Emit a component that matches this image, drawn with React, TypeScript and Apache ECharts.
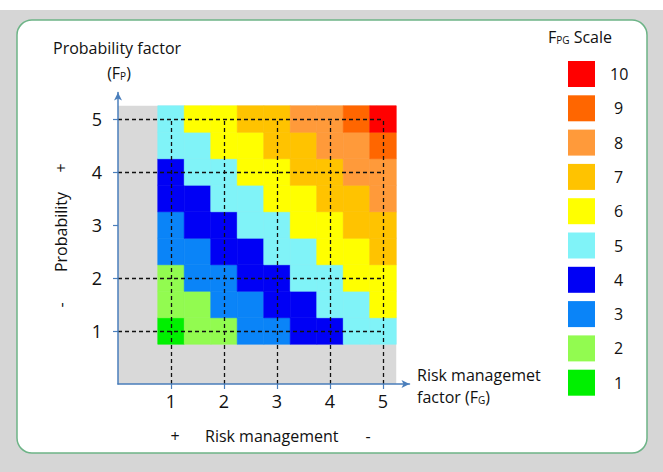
import React, { useEffect, useRef } from "react";
import * as echarts from "echarts";

// ---- data ----
const cellCentres = [1, 1.5, 2, 2.5, 3, 3.5, 4, 4.5, 5];
// F_PG values, rows from bottom (F_P = 1) to top (F_P = 5), columns F_G = 1 .. 5
const fpgRow1 = [1, 2, 2, 3, 3, 4, 4, 5, 5];
const fpgRow15 = [2, 2, 3, 3, 4, 4, 5, 5, 6];
const fpgRow2 = [2, 3, 3, 4, 4, 5, 5, 6, 6];
const fpgRow25 = [3, 3, 4, 4, 5, 5, 6, 6, 7];
const fpgRow3 = [3, 4, 4, 5, 5, 6, 6, 7, 7];
const fpgRow35 = [4, 4, 5, 5, 6, 6, 7, 7, 8];
const fpgRow4 = [4, 5, 5, 6, 6, 7, 7, 8, 8];
const fpgRow45 = [5, 5, 6, 6, 7, 7, 8, 8, 9];
const fpgRow5 = [5, 6, 6, 7, 7, 8, 8, 9, 10];
const fpgRows = [fpgRow1, fpgRow15, fpgRow2, fpgRow25, fpgRow3, fpgRow35, fpgRow4, fpgRow45, fpgRow5];

const scaleValues = [1, 2, 3, 4, 5, 6, 7, 8, 9, 10];
const scaleColors = ["#00f000", "#92fb50", "#0a84f8", "#0000f5", "#80f3f8", "#ffff00", "#ffc300", "#ff9a3a", "#ff6600", "#ff0000"];

const axisTickValues = [1, 2, 3, 4, 5];
const dashedRowsY = [1, 2, 4, 5];
const dashedColsX = [1, 2, 3, 4, 5];
const plotExtent = 5.25;
const axisMax = 5.5;

const FONT = "'Open Sans', 'Noto Sans', sans-serif";

export default function App() {
  const ref = useRef<HTMLDivElement>(null);
  useEffect(() => {
    if (!ref.current) return;
    const chart = echarts.init(ref.current, undefined, { renderer: "svg" });
    const cellData: number[][] = [];
    fpgRows.forEach((row, ri) => {
      row.forEach((v, ci) => cellData.push([cellCentres[ci], cellCentres[ri], v]));
    });
    const half = (cellCentres[1] - cellCentres[0]) / 2;
    const dashLines = [
      ...dashedRowsY.map((y) => ({ coords: [[0, y], [dashedColsX[dashedColsX.length - 1], y]] })),
      ...dashedColsX.map((x) => ({ coords: [[x, 0], [x, dashedRowsY[dashedRowsY.length - 1]]] })),
    ];
    const axisColor = "#4a7ebb";
    const axisCommon = {
      type: "value" as const,
      min: 0,
      max: axisMax,
      z: 10,
      splitLine: { show: false },
      axisLine: {
        show: true,
        onZero: false,
        symbol: ["none", "arrow"],
        symbolSize: [6, 8],
        lineStyle: { color: axisColor, width: 1.5 },
      },
      axisTick: { show: true, customValues: axisTickValues, length: 5, lineStyle: { color: axisColor, width: 1.2 } },
    };
    chart.setOption({
      animation: false,
      backgroundColor: "#d6d6d6",
      graphic: [
        { type: "rect", z: -100, shape: { x: 0, y: 0, width: 663, height: 10 }, style: { fill: "#ffffff" } },
        {
          type: "rect",
          z: -99,
          shape: { x: 17, y: 20, width: 630, height: 433, r: 15 },
          style: { fill: "#ffffff", stroke: "#6db487", lineWidth: 1.5 },
        },
        {
          type: "text",
          x: 53,
          y: 48,
          style: { text: "Probability factor", font: `16px ${FONT}`, fill: "#111", verticalAlign: "middle" },
        },
        {
          type: "text",
          x: 119,
          y: 73,
          style: {
            text: "{a|(F}{s|P}{a|)}",
            align: "center",
            verticalAlign: "middle",
            rich: {
              a: { fontSize: 16, fontFamily: FONT, fill: "#111" },
              s: { fontSize: 10, fontFamily: FONT, fill: "#111", verticalAlign: "bottom" },
            },
          },
        },
        {
          type: "text",
          x: 61,
          y: 232,
          rotation: Math.PI / 2,
          style: { text: "Probability", font: `16px ${FONT}`, fill: "#111", align: "center", verticalAlign: "middle" },
        },
        {
          type: "text",
          x: 61,
          y: 168,
          rotation: Math.PI / 2,
          style: { text: "+", font: `16px ${FONT}`, fill: "#111", align: "center", verticalAlign: "middle" },
        },
        {
          type: "text",
          x: 61,
          y: 305,
          rotation: Math.PI / 2,
          style: { text: "-", font: `16px ${FONT}`, fill: "#111", align: "center", verticalAlign: "middle" },
        },
        {
          type: "text",
          x: 417,
          y: 375,
          style: { text: "Risk managemet", font: `16px ${FONT}`, fill: "#111", verticalAlign: "middle" },
        },
        {
          type: "text",
          x: 417,
          y: 397,
          style: {
            text: "{a|factor (F}{s|G}{a|)}",
            verticalAlign: "middle",
            rich: {
              a: { fontSize: 16, fontFamily: FONT, fill: "#111" },
              s: { fontSize: 10, fontFamily: FONT, fill: "#111", verticalAlign: "bottom" },
            },
          },
        },
        {
          type: "text",
          x: 175,
          y: 436,
          style: { text: "+", font: `16px ${FONT}`, fill: "#111", align: "center", verticalAlign: "middle" },
        },
        {
          type: "text",
          x: 205,
          y: 436,
          style: { text: "Risk management", font: `16px ${FONT}`, fill: "#111", verticalAlign: "middle" },
        },
        {
          type: "text",
          x: 368,
          y: 436,
          style: { text: "-", font: `16px ${FONT}`, fill: "#111", align: "center", verticalAlign: "middle" },
        },
        {
          type: "text",
          x: 580,
          y: 37,
          style: {
            text: "{a|F}{s|PG}{a| Scale}",
            align: "center",
            verticalAlign: "middle",
            rich: {
              a: { fontSize: 16, fontFamily: FONT, fill: "#111" },
              s: { fontSize: 10, fontFamily: FONT, fill: "#111", verticalAlign: "bottom" },
            },
          },
        },
      ],
      grid: { left: 118, top: 92.5, width: axisMax * 53, height: axisMax * 53, containLabel: false },
      xAxis: {
        ...axisCommon,
        axisLabel: { customValues: axisTickValues, fontSize: 18, fontFamily: FONT, color: "#111", margin: 8 },
      },
      yAxis: {
        ...axisCommon,
        axisLabel: { customValues: axisTickValues, fontSize: 18, fontFamily: FONT, color: "#111", margin: 16 },
      },
      visualMap: {
        type: "piecewise",
        dimension: 2,
        seriesIndex: 1,
        orient: "vertical",
        align: "left",
        left: 568,
        top: 61,
        padding: 0,
        itemWidth: 27,
        itemHeight: 26,
        itemGap: 8.3,
        textGap: 15,
        itemSymbol: "rect",
        selectedMode: false,
        hoverLink: false,
        textStyle: { fontSize: 16, fontFamily: FONT, color: "#111" },
        pieces: scaleValues.map((v, i) => ({
          value: v,
          color: scaleColors[i],
          label: v < 10 ? "\u2005" + String(v) : String(v),
        })),
      },
      series: [
        {
          type: "custom",
          silent: true,
          z: 1,
          data: [[0, 0, plotExtent, plotExtent]],
          renderItem: (params: any, api: any) => {
            const p1 = api.coord([api.value(0), api.value(3)]);
            const p2 = api.coord([api.value(2), api.value(1)]);
            return {
              type: "rect",
              shape: { x: p1[0], y: p1[1], width: p2[0] - p1[0], height: p2[1] - p1[1] },
              style: { fill: "#d9d9d9" },
            };
          },
        },
        {
          type: "custom",
          silent: true,
          z: 2,
          data: cellData,
          renderItem: (params: any, api: any) => {
            const x = api.value(0);
            const y = api.value(1);
            const p1 = api.coord([x - half, y + half]);
            const p2 = api.coord([x + half, y - half]);
            const c = api.visual("color");
            return {
              type: "rect",
              shape: { x: p1[0], y: p1[1], width: p2[0] - p1[0], height: p2[1] - p1[1] },
              style: { fill: c, stroke: c, lineWidth: 0.6 },
            };
          },
        },
        {
          type: "lines",
          coordinateSystem: "cartesian2d",
          silent: true,
          z: 3,
          symbol: "none",
          lineStyle: { color: "#111", width: 1.3, type: [4, 3], opacity: 1 },
          data: dashLines,
        },
      ],
    });
    return () => chart.dispose();
  }, []);
  return <div ref={ref} style={{ position: "fixed", left: 0, top: 0, width: 663, height: 472 }} />;
}
